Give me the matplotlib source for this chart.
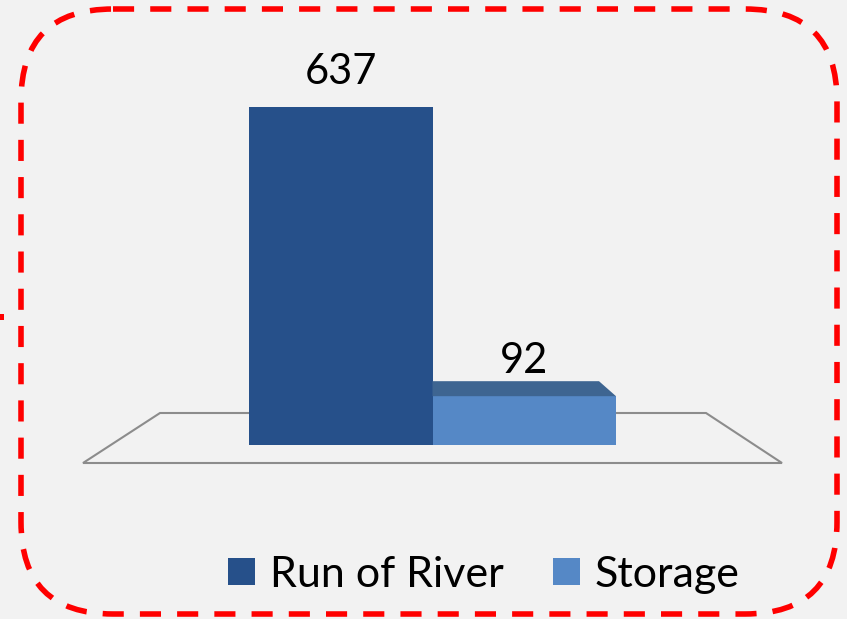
import matplotlib
matplotlib.use("Agg")
import matplotlib.pyplot as plt
from matplotlib.patches import FancyBboxPatch, Polygon, Rectangle

# hydro capacity split
categories = ["Run of River", "Storage"]
values = [637, 92]
colors = ["#26508a", "#5588c6"]
top_color = "#3e6591"

W, H = 847, 619
fig = plt.figure(figsize=(W / 100, H / 100), dpi=100)
fig.patch.set_facecolor("#f2f2f2")

# background layer in pixel coordinates (y grows downward)
bg = fig.add_axes([0, 0, 1, 1], zorder=-1)
bg.set_xlim(0, W)
bg.set_ylim(H, 0)
bg.axis("off")
bg.set_facecolor("none")

# dashed rounded frame
frame = FancyBboxPatch((21, 9), 816, 605, boxstyle="round,pad=0,rounding_size=92",
                       fc="none", ec="#ff0000", lw=4, linestyle=(0, (3.8, 2.9)),
                       capstyle="butt")
bg.add_patch(frame)
bg.add_patch(Rectangle((0, 314), 4, 6, fc="#ff0000", ec="none"))

# floor of the 3d plot area
floor = Polygon([(160, 413), (706, 413), (782, 463), (83, 463)], closed=True,
                fc="none", ec="#8c8c8c", lw=1.5)
bg.add_patch(floor)

# bar axes: categories on x, values on y
ax = fig.add_axes([249 / W, 174 / H, 367 / W, 371.4 / H])
ax.set_xlim(-0.5, 1.5)
ax.set_ylim(0, 700)
ax.axis("off")
ax.patch.set_alpha(0)

x = list(range(len(categories)))
bars = ax.bar(x, values, width=1.0, color=colors, zorder=2, label=categories)

# top face of the short bar (depth drawn in pixels)
b = bars[1]
x0, y0 = ax.transData.transform((b.get_x(), b.get_height()))
x1, _ = ax.transData.transform((b.get_x() + b.get_width(), b.get_height()))
depth_x, depth_y = -17, 15
top = Polygon([(x0, y0), (x1, y0), (x1 + depth_x, y0 + depth_y), (x0, y0 + depth_y)],
              closed=True, fc=top_color, ec="none", transform=None, zorder=1)
fig.add_artist(top)

# value labels
for xi, v in zip(x, values):
    ax.annotate(str(v), (xi, v), xytext=(0, 16.6), textcoords="offset points",
                ha="center", va="baseline", fontsize=30, family="Lato", color="black")

# legend
handles = [Rectangle((0, 0), 1, 1, fc=c, ec="none") for c in colors]
leg = fig.legend(handles, categories, loc="center left", ncol=2, frameon=False,
                 bbox_to_anchor=(228 / W, 1 - 575 / H),
                 prop={"family": "Lato", "size": 31},
                 handlelength=0.63, handleheight=0.6, handletextpad=0.34,
                 columnspacing=1.15, borderpad=0, borderaxespad=0)

fig.savefig("out.png", dpi=100, facecolor=fig.get_facecolor())
